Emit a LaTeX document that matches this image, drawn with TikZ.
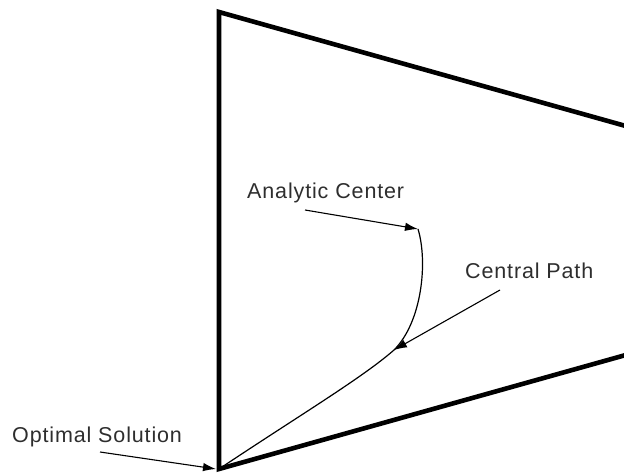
\documentclass[tikz,border=0pt]{standalone}
\usepackage{fontspec}
\setmainfont{Liberation Sans}
\newfontfamily\lblfont[LetterSpace=4]{Liberation Sans}
\usetikzlibrary{arrows.meta}
\begin{document}
\begin{tikzpicture}[x=1pt,y=-1pt,
  edge/.style={line width=4.6pt,line join=miter,line cap=butt},
  lbl/.style={font=\lblfont\fontsize{21.5}{24}\selectfont,text=black!82,inner sep=0pt,anchor=base west},
  pointer/.style={line width=1.1pt,-{Latex[length=13pt,width=8.5pt]}},
  pathline/.style={line width=1.2pt}]
\useasboundingbox (0,0) rectangle (624,476);
\clip (0,0) rectangle (624,476);
% feasible region
\coordinate (tl) at (219,12);
\coordinate (bl) at (219,469);
\coordinate (tr) at (640,130);
\coordinate (br) at (640,351);
\draw[edge] (tr) -- (tl) -- (bl) -- (br);
% central path
\coordinate (opt) at (219,469);
\coordinate (mid) at (394,350);
\coordinate (ctr) at (418,229);
\draw[pathline] (opt) .. controls (300,415) and (362,378) .. (mid)
  .. controls (422,322) and (428,262) .. (ctr);
% labels
\node[lbl] (ac) at (247,198) {Analytic Center};
\node[lbl] (cp) at (465,278) {Central Path};
\node[lbl] (os) at (12,442) {Optimal Solution};
\coordinate (acs) at (305,210);
\coordinate (cps) at (500,290);
\coordinate (oss) at (100,452);
\coordinate (optt) at (216,469);
\draw[pointer] (acs) -- (ctr);
\draw[pointer] (cps) -- (mid);
\draw[pointer] (oss) -- (optt);
\end{tikzpicture}
\end{document}
